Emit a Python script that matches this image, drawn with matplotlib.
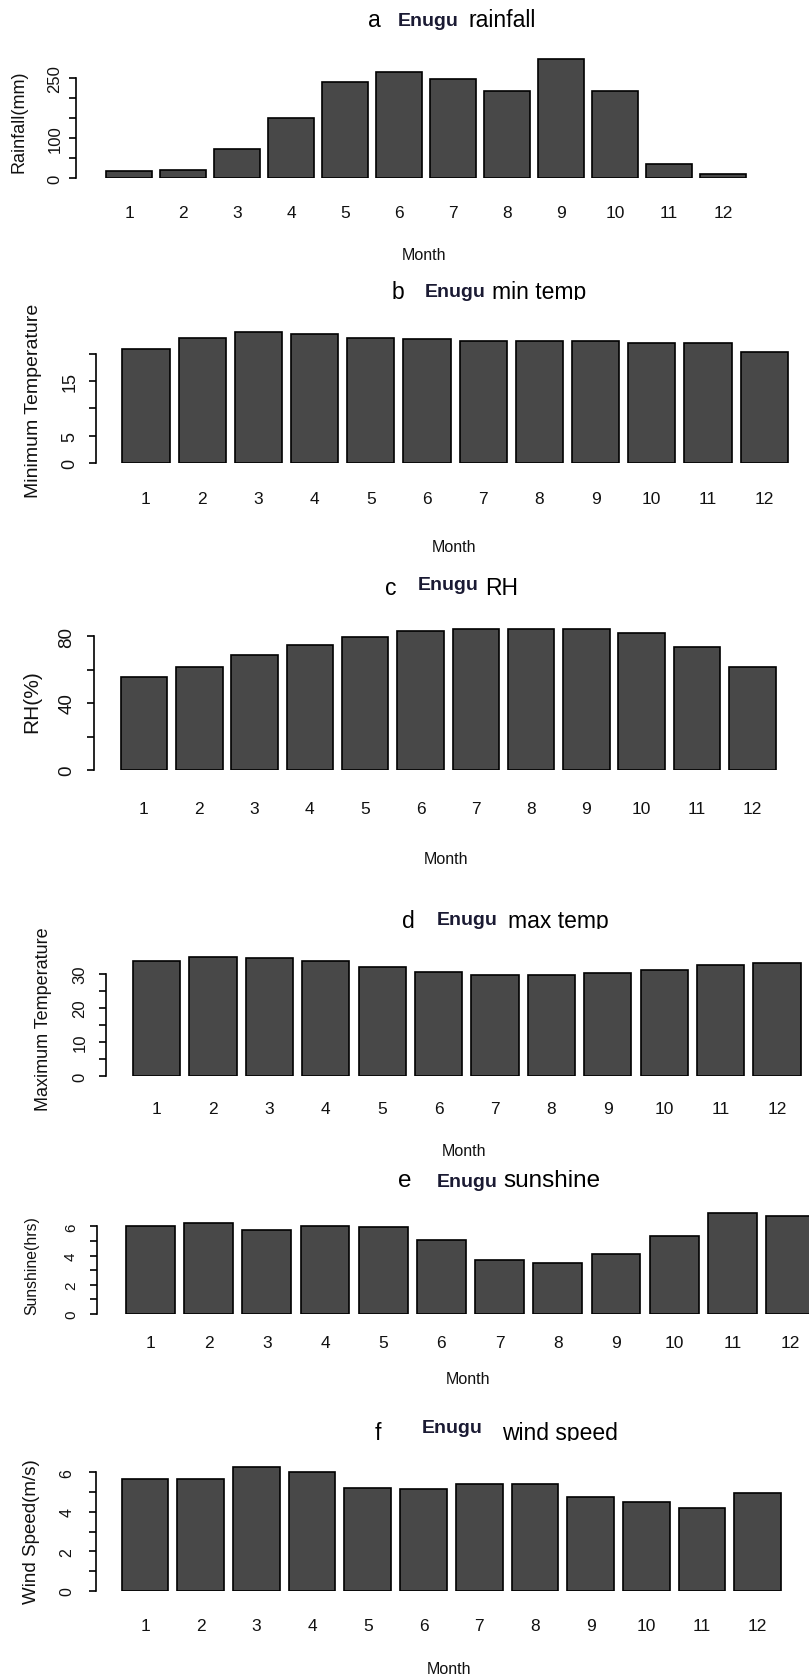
import matplotlib
matplotlib.use("Agg")
import matplotlib.pyplot as plt
from matplotlib import font_manager as fm
from matplotlib.transforms import blended_transform_factory, Bbox

# ---------------- data ----------------
months = [1, 2, 3, 4, 5, 6, 7, 8, 9, 10, 11, 12]
month_labels = ["1", "2", "3", "4", "5", "6", "7", "8", "9", "10", "11", "12"]

rainfall = [18, 21.5, 72, 151, 239, 264, 247, 217, 297, 217, 35.5, 11]
min_temp = [20.9, 22.9, 24.0, 23.6, 22.9, 22.6, 22.3, 22.3, 22.3, 21.95, 21.95, 20.3]
rel_hum = [55.5, 61.5, 68.7, 74.6, 79.2, 83.0, 84.0, 84.0, 84.0, 81.6, 73.2, 61.5]
max_temp = [33.6, 35.0, 34.5, 33.6, 32.0, 30.6, 29.6, 29.6, 30.1, 31.2, 32.5, 33.0]
sunshine = [6.05, 6.23, 5.78, 6.05, 5.94, 5.09, 3.72, 3.52, 4.09, 5.37, 6.92, 6.74]
wind_speed = [5.65, 5.65, 6.25, 6.02, 5.21, 5.13, 5.38, 5.38, 4.77, 4.50, 4.17, 4.94]

rain_ticks = [0, 50, 100, 150, 200, 250]
rain_ticklabels = ["0", "", "100", "", "", "250"]
tmin_ticks = [0, 5, 10, 15, 20]
tmin_ticklabels = ["0", "5", "", "15", ""]
rh_ticks = [0, 20, 40, 60, 80]
rh_ticklabels = ["0", "", "40", "", "80"]
tmax_ticks = [0, 5, 10, 15, 20, 25, 30]
tmax_ticklabels = ["0", "", "10", "", "20", "", "30"]
sun_ticks = [0, 1, 2, 3, 4, 5, 6]
sun_ticklabels = ["0", "", "2", "", "4", "", "6"]
wind_ticks = [0, 1, 2, 3, 4, 5, 6]
wind_ticklabels = ["0", "", "2", "", "4", "", "6"]

titles = [("a", "rainfall"), ("b", "min temp"), ("c", "RH"),
          ("d", "max temp"), ("e", "sunshine"), ("f", "wind speed")]
station = "Enugu"
ylabels = ["Rainfall(mm)", "Minimum Temperature", "RH(%)",
           "Maximum Temperature", "Sunshine(hrs)", "Wind Speed(m/s)"]
xlabel = "Month"

# ---------------- fonts ----------------
names = {f.name for f in fm.fontManager.ttflist}
HAS_NARROW = "Liberation Sans Narrow" in names
SANS = "Liberation Sans" if "Liberation Sans" in names else "DejaVu Sans"
NARROW = "Liberation Sans Narrow" if HAS_NARROW else SANS
MONTH_TICK_SIZE = 14 if HAS_NARROW else 12.5
MONTH_LABEL_SIZE = 13 if HAS_NARROW else 11.5
STATION_SIZE = 16 if HAS_NARROW else 14

# ---------------- layout (pixels) ----------------
W, H = 809, 1681
fig = plt.figure(figsize=(W / 100, H / 100), dpi=100)

layout = [
    dict(L=76, c1=129, sp=54.0, Z=179.3, s=0.4024, td=21, tls=12, ylx=19.5, yly=122, yls=13,
         mrow=213, mx=424, my=255, clip=None,
         t=[(368, 27), (398, 26), (468, 27)], ts=16.5),
    dict(L=95.5, c1=146, sp=56.2, Z=464, s=5.465, td=25.5, tls=13, ylx=33.5, yly=401, yls=14,
         mrow=500, mx=454, my=547, clip=301,
         t=[(392, 299), (425, 297), (492, 299)], ts=16.5),
    dict(L=94, c1=144, sp=55.3, Z=771, s=1.675, td=27, tls=13.5, ylx=32, yly=702, yls=15,
         mrow=810, mx=446, my=860, clip=None,
         t=[(385, 595), (418, 590), (485, 595)], ts=16.5),
    dict(L=105.8, c1=156.6, sp=56.4, Z=1077, s=3.41, td=26, tls=12, ylx=44, yly=1019, yls=13,
         mrow=1110, mx=464, my=1152, clip=930,
         t=[(402, 928), (437, 925), (508, 928)], ts=16.5),
    dict(L=97, c1=150.4, sp=58.2, Z=1315, s=14.6, td=26, tls=11, ylx=32, yly=1266, yls=11.3,
         mrow=1343, mx=468, my=1380, clip=None,
         t=[(398, 1187), (437, 1187), (503, 1187)], ts=17.5),
    dict(L=95.5, c1=145, sp=55.7, Z=1592, s=19.8, td=28.5, tls=11.5, ylx=32, yly=1532, yls=13.5,
         mrow=1627, mx=449, my=1670, clip=1442,
         t=[(375, 1440), (422, 1433), (502, 1440)], ts=16.5),
]

series = [rainfall, min_temp, rel_hum, max_temp, sunshine, wind_speed]
ticks = [rain_ticks, tmin_ticks, rh_ticks, tmax_ticks, sun_ticks, wind_ticks]
ticklabels = [rain_ticklabels, tmin_ticklabels, rh_ticklabels, tmax_ticklabels,
              sun_ticklabels, wind_ticklabels]

BAR_FILL = "#484848"
TEXT = "#111111"
TICKLEN_PX = 7

for vals, tk, tkl, lay, (letter, word), ylab in zip(series, ticks, ticklabels, layout, titles, ylabels):
    L, c1, sp, Z, s = lay["L"], lay["c1"], lay["sp"], lay["Z"], lay["s"]
    top_val = max(max(vals), tk[-1]) * 1.04
    T = Z - top_val * s
    R = W
    ax = fig.add_axes([L / W, 1 - Z / H, (R - L) / W, (Z - T) / H])
    ax.set_xlim(1 - (c1 - L) / sp, 1 + (R - c1) / sp)
    ax.set_ylim(0, top_val)
    ax.bar(months, vals, width=0.84, color=BAR_FILL, edgecolor="black", linewidth=1.2)
    for sname in ["top", "right", "bottom"]:
        ax.spines[sname].set_visible(False)
    ax.spines["left"].set_bounds(tk[0], tk[-1])
    ax.spines["left"].set_linewidth(1.2)
    ax.set_xticks([])
    ax.set_yticks(tk)
    ax.set_yticklabels(tkl, rotation=90, va="center", ha="center",
                       fontsize=lay["tls"], family=SANS, color=TEXT)
    ax.tick_params(axis="y", length=TICKLEN_PX * 0.72, width=1.2,
                   pad=(lay["td"] - TICKLEN_PX) * 0.72)
    ax.patch.set_alpha(0)

    # month labels
    tr = blended_transform_factory(ax.transData, fig.transFigure)
    for m, lab in zip(months, month_labels):
        ax.text(m, 1 - lay["mrow"] / H, lab, transform=tr, ha="center", va="center",
                fontsize=MONTH_TICK_SIZE, family=NARROW, color=TEXT)
    fig.text(lay["mx"] / W, 1 - lay["my"] / H, xlabel, ha="center", va="center",
             fontsize=MONTH_LABEL_SIZE, family=NARROW, color=TEXT)

    # y label
    fig.text(lay["ylx"] / W, 1 - lay["yly"] / H, ylab, rotation=90, ha="center",
             va="center", fontsize=lay["yls"], family=SANS, color=TEXT)

    # title pieces
    (x1, b1), (x2, b2), (x3, b3) = lay["t"]
    fig.text(x1 / W, 1 - b1 / H, letter, ha="left", va="baseline",
             fontsize=lay["ts"], family=SANS, color="black")
    fig.text(x2 / W, 1 - b2 / H, station, ha="left", va="baseline",
             fontsize=STATION_SIZE, family=NARROW, fontweight="bold", color="#1a1a33")
    wt = fig.text(x3 / W, 1 - b3 / H, word, ha="left", va="baseline",
                  fontsize=lay["ts"], family=SANS, color="black")
    if lay["clip"] is not None:
        cy = H - lay["clip"]
        wt.set_clip_box(Bbox([[0, cy], [W, H]]))
        wt.set_clip_on(True)

fig.savefig("out.png", dpi=100, facecolor="white")
